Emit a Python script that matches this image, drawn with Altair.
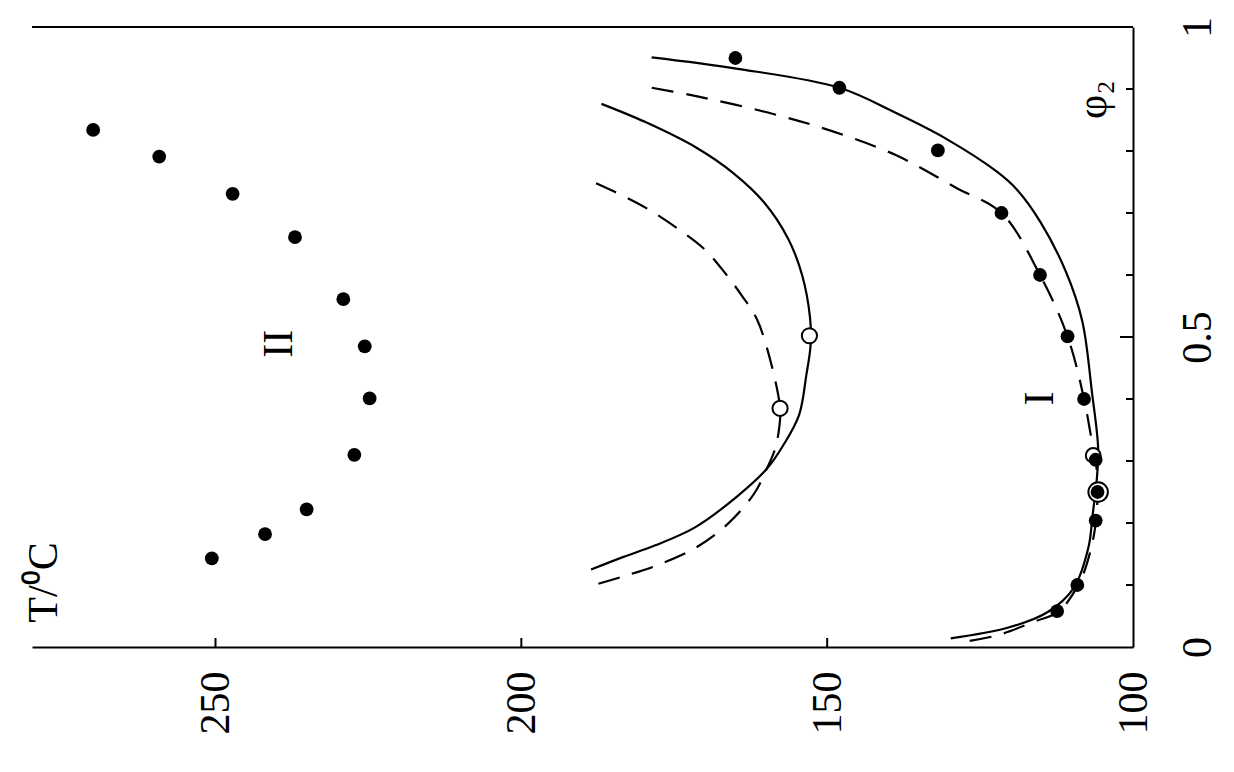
import altair as alt
import pandas as pd

# ---------------- data ----------------
# series II: filled dots (T in degC, phi2)
T_II = [270.0, 259.2, 247.2, 237.0, 229.1, 225.6, 224.8, 227.3, 235.1, 241.9, 250.6]
phi_II = [0.834, 0.791, 0.731, 0.661, 0.561, 0.485, 0.401, 0.310, 0.222, 0.182, 0.143]

# series I: filled dots
T_I = [165.0, 148.0, 131.9, 121.5, 115.2, 110.7, 108.0, 106.1, 105.8, 106.1, 109.1, 112.4]
phi_I = [0.950, 0.902, 0.801, 0.700, 0.600, 0.501, 0.400, 0.302, 0.250, 0.204, 0.100, 0.058]

# open circles (critical points)
T_crit_up = [152.9, 157.7]
phi_crit_up = [0.502, 0.385]
T_crit_low = [106.5, 105.7]
phi_crit_low = [0.309, 0.250]

# lower solid curve
phi_A = [0.014, 0.031, 0.056, 0.095, 0.160, 0.213, 0.273, 0.321, 0.410, 0.526,
         0.606, 0.685, 0.738, 0.767, 0.820, 0.862, 0.902, 0.933, 0.951]
T_A = [129.8, 120.5, 114.0, 109.7, 107.3, 106.6, 105.9, 105.7, 106.7, 108.3,
       111.0, 115.1, 119.0, 122.3, 130.6, 138.9, 148.0, 164.9, 178.7]

# lower dashed curve
phi_B = [0.010, 0.019, 0.041, 0.057, 0.101, 0.139, 0.192, 0.250, 0.302, 0.342,
         0.400, 0.501, 0.600, 0.700, 0.740, 0.793, 0.832, 0.862, 0.890, 0.905]
T_B = [126.7, 122.1, 116.1, 112.2, 108.9, 107.4, 106.2, 105.8, 106.1, 106.9,
       108.0, 110.7, 115.2, 121.5, 128.8, 138.7, 149.2, 159.7, 172.2, 180.4]

# upper solid curve
phi_C = [0.125, 0.145, 0.164, 0.193, 0.243, 0.287, 0.325, 0.374, 0.439, 0.488,
         0.531, 0.600, 0.659, 0.717, 0.764, 0.806, 0.847, 0.876]
T_C = [188.6, 183.4, 178.1, 171.6, 164.7, 159.9, 157.2, 154.6, 153.4, 152.7,
       152.8, 154.1, 156.4, 160.3, 165.3, 171.5, 179.8, 186.9]

# upper dashed curve
phi_D = [0.102, 0.114, 0.131, 0.160, 0.199, 0.248, 0.287, 0.320, 0.357, 0.385,
         0.459, 0.529, 0.566, 0.602, 0.640, 0.671, 0.707, 0.735, 0.750]
T_D = [187.4, 183.3, 178.0, 171.5, 166.2, 161.9, 159.9, 158.5, 157.8, 157.7,
       159.2, 161.5, 163.9, 166.6, 169.9, 173.9, 179.4, 184.9, 188.2]

# text labels
label_text = ["II", "I", "T/\u2070C", "\u03c6\u2082"]
label_T = [239.7, 115.2, 278.0, 106.6]
label_phi = [0.489, 0.401, 0.104, 0.883]

# axis ticks / labels
T_tick_labels = [100, 150, 200, 250]
T_ticks = [150, 200, 250]
phi_tick_labels = [0, 0.5, 1]
phi_minor = [0.1, 0.2, 0.3, 0.4, 0.6, 0.7, 0.8, 0.9]
phi_major = [0.5]

# ---------------- chart ----------------
W, H = 1101, 620
FONT = "Liberation Serif"
FS = 42

xs = alt.Scale(domain=[100, 280], reverse=True, nice=False, zero=False)
ys = alt.Scale(domain=[0, 1], nice=False, zero=False)

x_axis = alt.Axis(values=T_tick_labels, ticks=False, grid=False, domain=True,
                  domainColor="black", domainWidth=2, labelAngle=270,
                  labelAlign="right", labelBaseline="middle", labelPadding=24,
                  labelFont=FONT, labelFontSize=FS, labelColor="black",
                  labelFlush=False, labelOverlap=False, title=None)
y_axis = alt.Axis(orient="right", values=phi_tick_labels, ticks=False, grid=False,
                  domain=True, domainColor="black", domainWidth=2, labelAngle=270,
                  labelAlign="center", labelBaseline="top", labelPadding=44,
                  labelFont=FONT, labelFontSize=FS, labelColor="black",
                  labelFlush=False, labelOverlap=False,
                  labelExpr="toString(datum.value)", title=None)

X = alt.X("T:Q", scale=xs, axis=x_axis)
Y = alt.Y("phi:Q", scale=ys, axis=y_axis)


def curve(T, P, **kw):
    df = pd.DataFrame({"T": T, "phi": P, "i": list(range(len(T)))})
    return alt.Chart(df).mark_line(color="black", strokeWidth=2.2,
                                   interpolate="catmull-rom", **kw).encode(
        x=X, y=Y, order="i:Q")


def pts(T, P):
    return pd.DataFrame({"T": T, "phi": P})


lineA = curve(T_A, phi_A)
lineB = curve(T_B, phi_B, strokeDash=[22, 13])
lineC = curve(T_C, phi_C)
lineD = curve(T_D, phi_D, strokeDash=[22, 13])

ring = dict(shape="circle", filled=True, fill="white", stroke="black",
            strokeWidth=2, opacity=1)
crit_up = alt.Chart(pts(T_crit_up, phi_crit_up)).mark_point(size=230, **ring).encode(x=X, y=Y)
crit_low1 = alt.Chart(pts(T_crit_low[:1], phi_crit_low[:1])).mark_point(size=220, **ring).encode(x=X, y=Y)
crit_low2 = alt.Chart(pts(T_crit_low[1:], phi_crit_low[1:])).mark_point(size=380, **ring).encode(x=X, y=Y)

dots = alt.Chart(pd.concat([pts(T_I, phi_I), pts(T_II, phi_II)])).mark_circle(
    color="black", size=190, opacity=1).encode(x=X, y=Y)

labels = alt.Chart(pd.DataFrame({"text": label_text, "T": label_T, "phi": label_phi})).mark_text(
    font=FONT, fontSize=FS, angle=270, align="center", baseline="middle",
    color="black").encode(x=X, y=Y, text="text:N")

tx = alt.Chart(pd.DataFrame({"T": T_ticks})).mark_rule(color="black", strokeWidth=2).encode(
    x=X, y=alt.value(H - 9), y2=alt.value(H))
ty_minor = alt.Chart(pd.DataFrame({"phi": phi_minor})).mark_rule(color="black", strokeWidth=2).encode(
    y=Y, x=alt.value(W - 7), x2=alt.value(W))
ty_major = alt.Chart(pd.DataFrame({"phi": phi_major})).mark_rule(color="black", strokeWidth=2).encode(
    y=Y, x=alt.value(W - 13), x2=alt.value(W))
top = alt.Chart(pd.DataFrame({"phi": [1.0]})).mark_rule(color="black", strokeWidth=2).encode(
    y=Y, x=alt.value(0), x2=alt.value(W))

chart = alt.layer(
    lineA, lineB, lineC, lineD, crit_low1, crit_low2, dots, crit_up, labels,
    tx, ty_minor, ty_major, top
).properties(
    width=W, height=H,
    autosize=alt.AutoSizeParams(type="none"),
    padding={"left": 24, "top": 19, "right": 85, "bottom": 110},
    background="white",
).configure_view(stroke=None)

chart.save("out.html", embed_options={"renderer": "svg", "actions": False})
